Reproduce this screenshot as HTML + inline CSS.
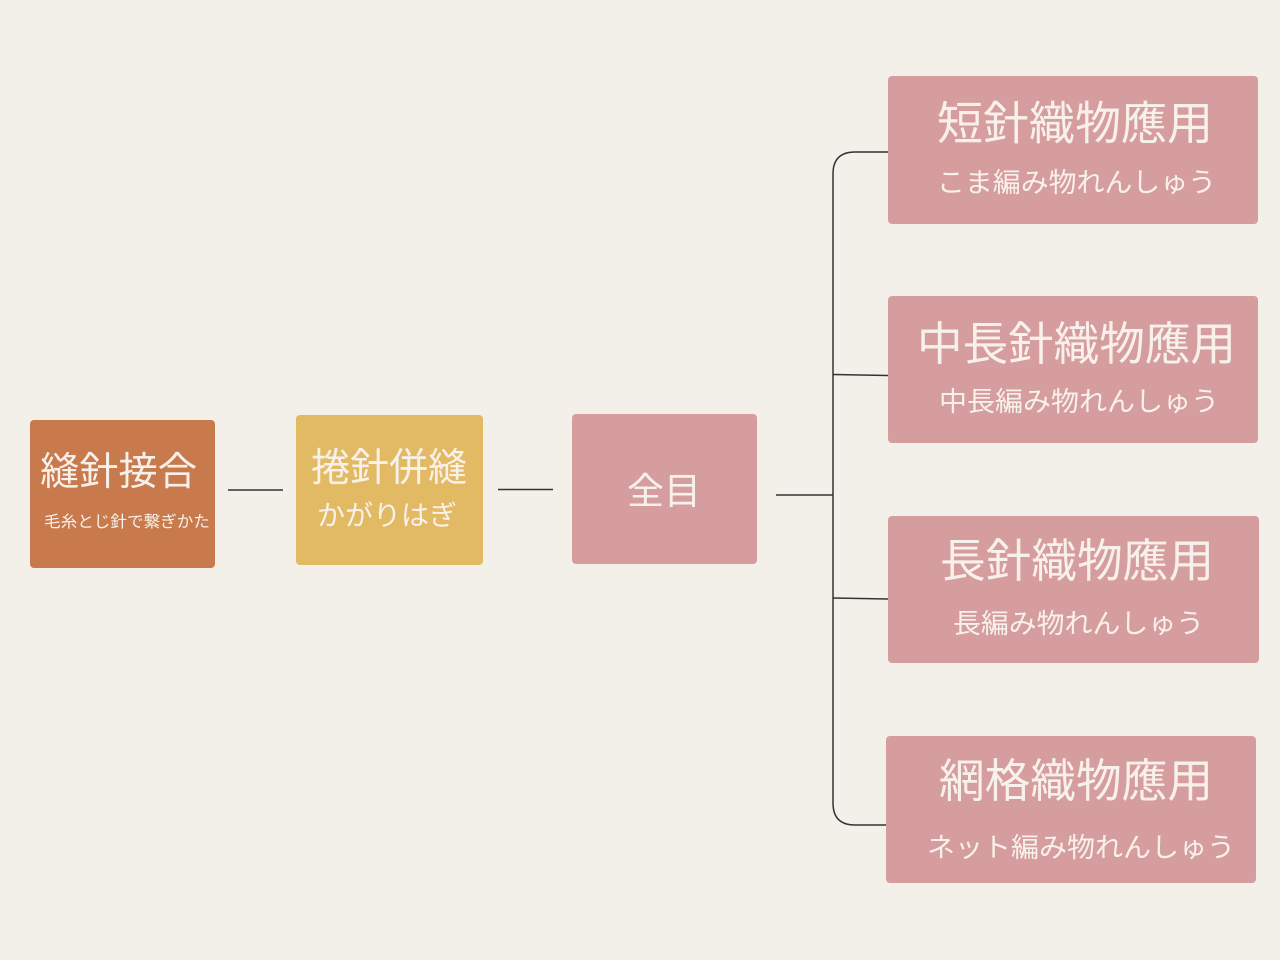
<!DOCTYPE html>
<html>
<head>
<meta charset="utf-8">
<style>
html,body{margin:0;padding:0;background:#F3F0E9;}
svg{display:block;}
text{font-family:"Liberation Sans","Noto Sans CJK JP",sans-serif;fill:#F8F1EB;}
</style>
</head>
<body>
<svg width="1280" height="960" viewBox="0 0 1280 960" xmlns="http://www.w3.org/2000/svg">
<rect x="0" y="0" width="1280" height="960" fill="#F3F0E9"/>
<!-- connectors -->
<g stroke="#333" stroke-width="1.5" fill="none">
<line x1="228" y1="490" x2="283" y2="490"/>
<line x1="498" y1="489.5" x2="553" y2="489.5"/>
<line x1="776" y1="495" x2="833" y2="495"/>
<path d="M888 152 L855 152 Q833 152 833 174 L833 803 Q833 825 855 825 L886 825"/>
<line x1="833" y1="374.5" x2="888" y2="375.5"/>
<line x1="833" y1="598" x2="888" y2="599"/>
</g>
<!-- nodes -->
<rect x="30" y="420" width="185" height="148" rx="4" fill="#C97A4C"/>
<rect x="296" y="415" width="187" height="150" rx="4" fill="#E2BA64"/>
<rect x="572" y="414" width="185" height="150" rx="4" fill="#D69D9E"/>
<rect x="888" y="76" width="370" height="148" rx="4" fill="#D69D9E"/>
<rect x="888" y="296" width="370" height="147" rx="4" fill="#D69D9E"/>
<rect x="888" y="516" width="371" height="147" rx="4" fill="#D69D9E"/>
<rect x="886" y="736" width="370" height="147" rx="4" fill="#D69D9E"/>
<!-- texts -->
<text x="40" y="485" font-size="39" textLength="157" lengthAdjust="spacingAndGlyphs">縫針接合</text>
<text x="44" y="527" font-size="16" textLength="166" lengthAdjust="spacingAndGlyphs">毛糸とじ針で繋ぎかた</text>
<text x="311" y="481" font-size="39" textLength="156" lengthAdjust="spacingAndGlyphs">捲針併縫</text>
<text x="317" y="525" font-size="28" textLength="140" lengthAdjust="spacingAndGlyphs">かがりはぎ</text>
<text x="627" y="504" font-size="37" textLength="74" lengthAdjust="spacingAndGlyphs">全目</text>

<text x="937" y="139.5" font-size="46" textLength="276" lengthAdjust="spacingAndGlyphs">短針織物應用</text>
<text x="937" y="192" font-size="27" textLength="279" lengthAdjust="spacingAndGlyphs">こま編み物れんしゅう</text>

<text x="917" y="360" font-size="46" textLength="319" lengthAdjust="spacingAndGlyphs">中長針織物應用</text>
<text x="939" y="411" font-size="27" textLength="280" lengthAdjust="spacingAndGlyphs">中長編み物れんしゅう</text>

<text x="940" y="577" font-size="46" textLength="274" lengthAdjust="spacingAndGlyphs">長針織物應用</text>
<text x="953" y="633" font-size="27" textLength="251" lengthAdjust="spacingAndGlyphs">長編み物れんしゅう</text>

<text x="939" y="797" font-size="46" textLength="274" lengthAdjust="spacingAndGlyphs">網格織物應用</text>
<text x="927" y="857" font-size="27" textLength="308" lengthAdjust="spacingAndGlyphs">ネット編み物れんしゅう</text>
</svg>
</body>
</html>
